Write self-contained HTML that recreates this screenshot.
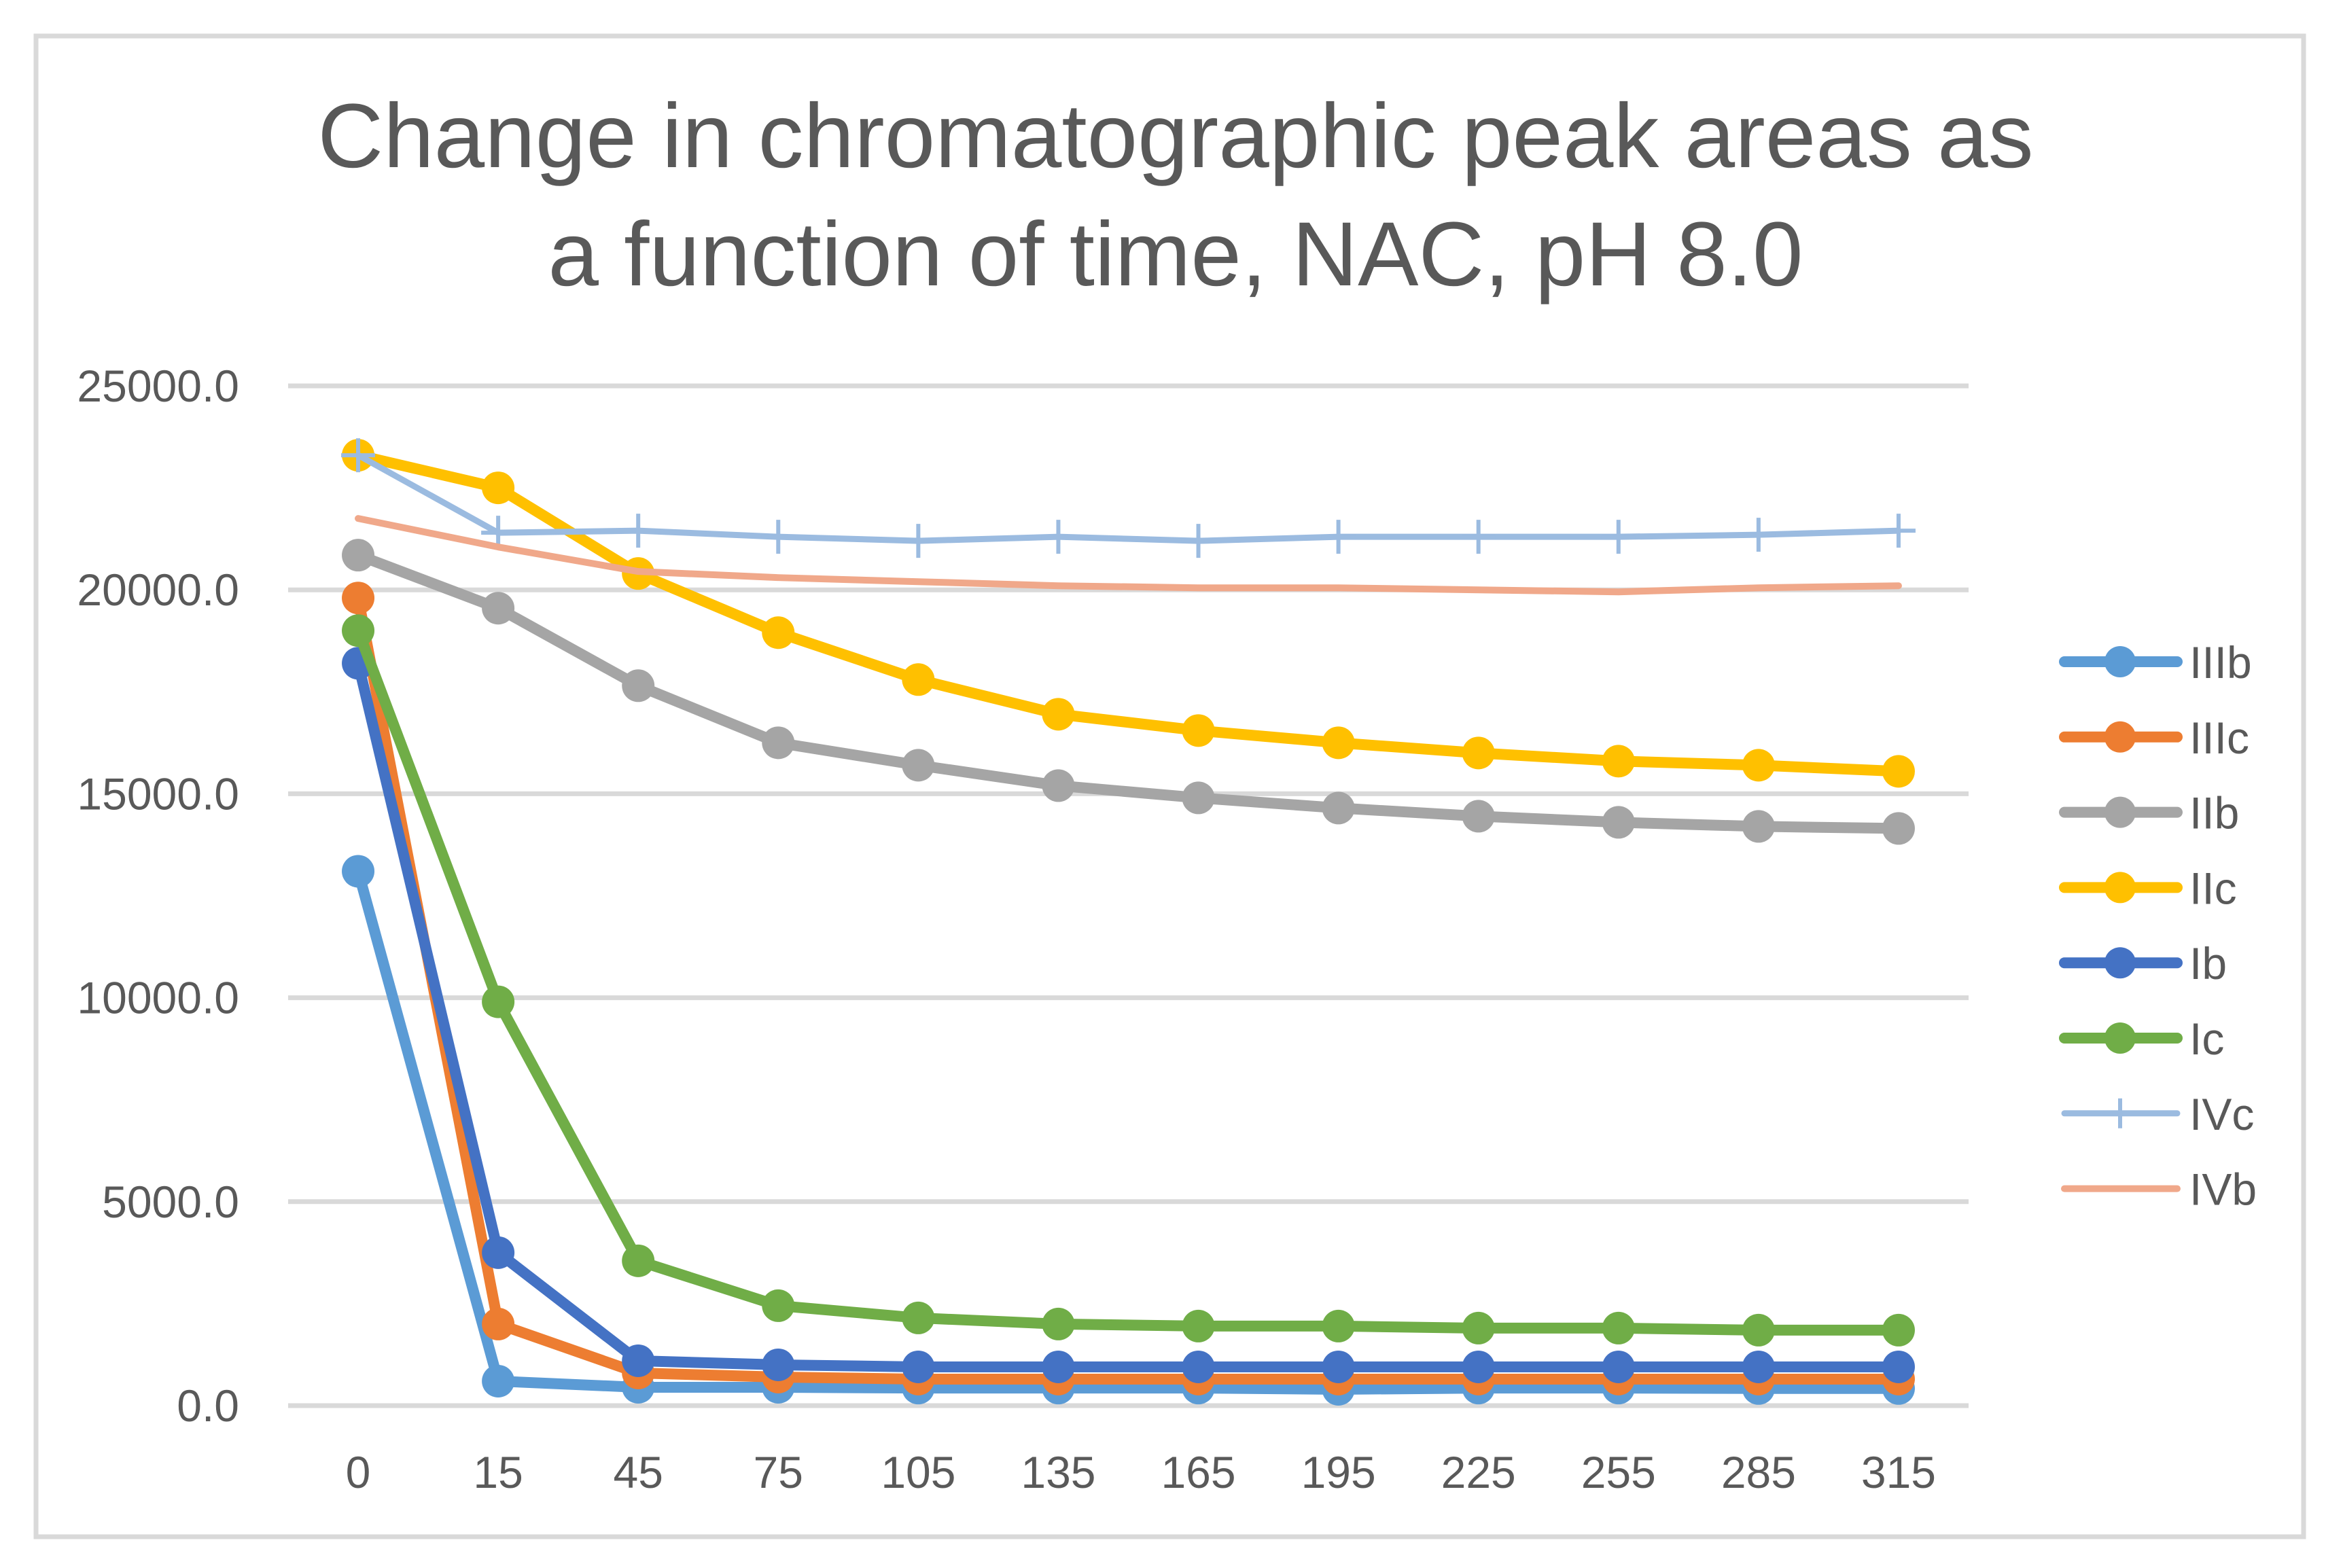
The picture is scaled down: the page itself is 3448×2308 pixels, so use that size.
<!DOCTYPE html>
<html><head><meta charset="utf-8"><style>
html,body{margin:0;padding:0;background:#fff}
svg{display:block}
text{font-family:"Liberation Sans",sans-serif;fill:#595959}
</style></head><body>
<svg id="chart" width="3448" height="2308" viewBox="0 0 3448 2308" xmlns="http://www.w3.org/2000/svg">
<rect x="53" y="53" width="3337" height="2209" fill="#fff" stroke="#d9d9d9" stroke-width="7"/>
<text x="1730" y="246" font-size="134" text-anchor="middle">Change in chromatographic peak areas as</text>
<text x="1730" y="420" font-size="134" text-anchor="middle">a function of time, NAC, pH 8.0</text>
<g id="grid"></g><g id="yticks"></g><g id="xticks"></g><g id="series"></g><g id="legend"></g>
</svg>
<script>
const categories=["0","15","45","75","105","135","165","195","225","255","285","315"];
const yTicks=[0,5000,10000,15000,20000,25000];
const seriesNames=["IIIb","IIIc","IIb","IIc","Ib","Ic","IVc","IVb"];
const sIIIb=[13100,600,450,450,430,430,430,400,430,430,420,420];
const sIIIc=[19800,2000,800,700,650,650,650,650,650,650,650,650];
const sIIb=[20850,19550,17650,16250,15700,15200,14900,14650,14450,14300,14200,14150];
const sIIc=[23300,22500,20400,18950,17800,16950,16550,16250,16000,15800,15700,15550];
const sIb=[18200,3750,1100,1000,950,950,950,950,950,950,950,950];
const sIc=[19000,9900,3550,2450,2150,2000,1950,1950,1900,1900,1850,1850];
const sIVc=[23300,21400,21450,21300,21200,21300,21200,21300,21300,21300,21350,21450];
const sIVb=[21750,21050,20450,20300,20200,20100,20050,20050,20000,19950,20050,20100];

const NS="http://www.w3.org/2000/svg";
const L=424,R=2897,Y0=2069,Y1=568,YMAX=25000;
const step=(R-L)/categories.length;
function x(i){return L+step*(i+0.5);}
function y(v){return Y0-(v/YMAX)*(Y0-Y1);}
function mk(tag,attrs,parent){const e=document.createElementNS(NS,tag);for(const k in attrs)e.setAttribute(k,attrs[k]);parent.appendChild(e);return e;}

const grid=document.getElementById('grid'),yt=document.getElementById('yticks'),xt=document.getElementById('xticks');
yTicks.forEach(v=>{
  const g=mk('line',{x1:L,x2:R,y1:y(v),y2:y(v),stroke:'#d9d9d9','stroke-width':7},grid);
  
  
  const t=mk('text',{x:352,y:y(v)+23,'font-size':66,'text-anchor':'end'},yt);
  t.textContent=v.toFixed(1);
  
  
});
categories.forEach((c,i)=>{
  const t=mk('text',{x:x(i),y:2190,'font-size':66,'text-anchor':'middle'},xt);
  t.textContent=c;
  
  
});

const seriesData=[sIIIb,sIIIc,sIIb,sIIc,sIb,sIc,sIVc,sIVb];
const colors=["#5b9bd5","#ed7d31","#a5a5a5","#ffc000","#4472c4","#70ad47","#9bbbe0","#f0a88a"];
const widths=[16,16,16,16,16,16,9,10];
const markers=["circle","circle","circle","circle","circle","circle","plus","none"];
const sg=document.getElementById('series'),lg=document.getElementById('legend');
seriesData.forEach((d,s)=>{
  const g=mk('g',{},sg);
  
  
  const pts=d.map((v,i)=>x(i)+','+y(v)).join(' ');
  const pl=mk('polyline',{points:pts,fill:'none',stroke:colors[s],'stroke-width':widths[s],'stroke-linejoin':'round','stroke-linecap':'round'},g);
  
  
  d.forEach((v,i)=>{
    if(markers[s]==='circle'){
      const c=mk('circle',{cx:x(i),cy:y(v),r:24,fill:colors[s]},g);
      
      
    }else if(markers[s]==='plus'){
      const p=mk('path',{d:`M${x(i)-25},${y(v)}h50M${x(i)},${y(v)-25}v50`,stroke:colors[s],'stroke-width':6},g);
      
      
    }
  });
  const ly=974+s*110.8;
  const le=mk('g',{},lg);
  
  
  mk('line',{x1:3038,x2:3204,y1:ly,y2:ly,stroke:colors[s],'stroke-width':widths[s],'stroke-linecap':'round'},le);
  if(markers[s]==='circle')mk('circle',{cx:3120,cy:ly,r:23,fill:colors[s]},le);
  else if(markers[s]==='plus')mk('path',{d:`M3120,${ly-22}v44`,stroke:colors[s],'stroke-width':6},le);
  const t=mk('text',{x:3222,y:ly+24,'font-size':66},le);
  t.textContent=seriesNames[s];
});
</script>
</body></html>
